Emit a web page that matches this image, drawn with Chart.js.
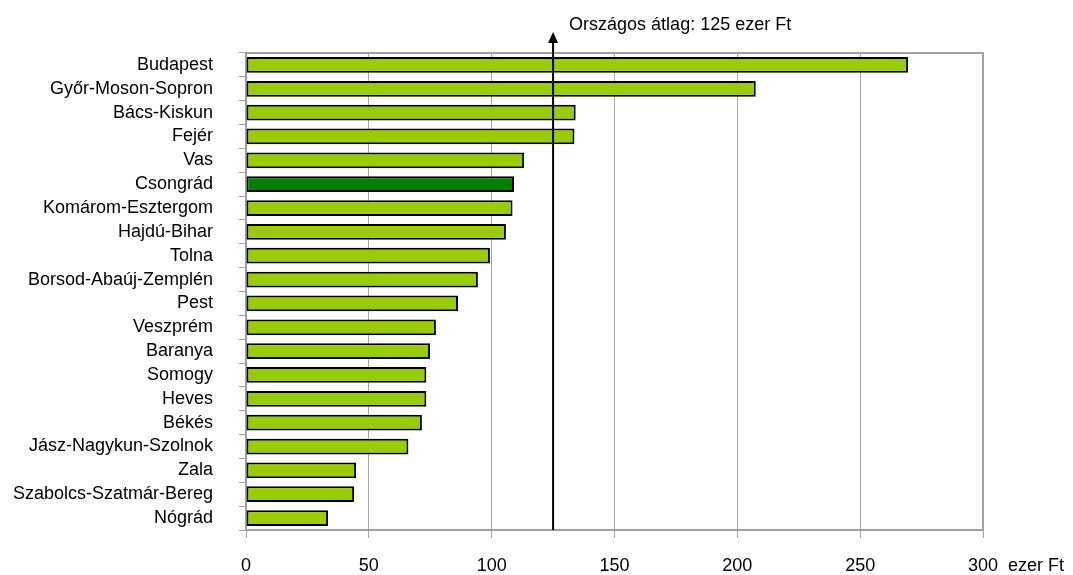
<!DOCTYPE html>
<html>
<head>
<meta charset="utf-8">
<script src="https://cdn.jsdelivr.net/npm/chart.js@4"></script>
<style>
  body { margin: 0; background: #fff; }
  #wrap { width: 1073px; height: 575px; }
</style>
</head>
<body>
<div id="wrap"><canvas id="megyek" width="1073" height="575"></canvas></div>
<script>
var megyek = ['Budapest', 'Győr-Moson-Sopron', 'Bács-Kiskun', 'Fejér', 'Vas', 'Csongrád',
  'Komárom-Esztergom', 'Hajdú-Bihar', 'Tolna', 'Borsod-Abaúj-Zemplén', 'Pest', 'Veszprém',
  'Baranya', 'Somogy', 'Heves', 'Békés', 'Jász-Nagykun-Szolnok', 'Zala',
  'Szabolcs-Szatmár-Bereg', 'Nógrád'];
var ertekek = [269.5, 207.5, 134.2, 133.7, 113.2, 109.1, 108.5, 105.8, 99.3, 94.4, 86.3, 77.3,
  74.9, 73.4, 73.4, 71.6, 66.1, 44.8, 44, 33.4];
var xTicks = [0, 50, 100, 150, 200, 250, 300];
var orszagosAtlag = 125;
var kiemelt = 'Csongrád';

var font = "'Liberation Sans', Arial, sans-serif";

var colors = megyek.map(m => m == kiemelt ? '#008000' : '#99cc00');

// arrow for the national average + extra texts
var atlagPlugin = {
  id: 'atlag',
  afterDatasetsDraw(chart) {
    var ctx = chart.ctx;
    var area = chart.chartArea;
    var x = chart.scales.x.getPixelForValue(orszagosAtlag);
    ctx.save();
    ctx.strokeStyle = '#000';
    ctx.lineWidth = 2;
    ctx.beginPath();
    ctx.moveTo(x, area.bottom);
    ctx.lineTo(x, 40);
    ctx.stroke();
    ctx.fillStyle = '#000';
    ctx.beginPath();
    ctx.moveTo(x, 32);
    ctx.lineTo(x - 5, 43);
    ctx.lineTo(x + 5, 43);
    ctx.closePath();
    ctx.fill();
    ctx.font = '18px ' + font;
    ctx.textBaseline = 'middle';
    ctx.textAlign = 'left';
    ctx.fillText('Országos átlag: ' + orszagosAtlag + ' ezer Ft', x + 16, 25);
    ctx.fillText('ezer Ft', area.right + 25, 566);
    ctx.restore();
  },
  beforeDatasetsDraw(chart) {
    var ctx = chart.ctx;
    var area = chart.chartArea;
    ctx.save();
    ctx.strokeStyle = '#a0a0a0';
    ctx.lineWidth = 2;
    ctx.strokeRect(area.left, area.top, area.right - area.left, area.bottom - area.top);
    ctx.restore();
  }
};

var config = {
  type: 'bar',
  data: {
    labels: megyek,
    datasets: [{
      data: ertekek,
      backgroundColor: colors,
      borderColor: '#000',
      borderWidth: 2,
      borderSkipped: false,
      barPercentage: 0.66,
      categoryPercentage: 1
    }]
  },
  options: {
    indexAxis: 'y',
    responsive: false,
    devicePixelRatio: 1,
    animation: false,
    layout: { padding: { top: 53, right: 90, left: 0, bottom: 0 } },
    plugins: { legend: { display: false }, tooltip: { enabled: false } },
    scales: {
      x: {
        min: 0,
        max: 300,
        afterBuildTicks: function(scale) { scale.ticks = xTicks.map(v => ({ value: v })); },
        afterFit: function(scale) { scale.height = 45; },
        grid: { color: '#a6a6a6', lineWidth: 1, tickLength: 8 },
        border: { color: '#a0a0a0', width: 2 },
        ticks: { color: '#000', font: { family: font, size: 18 }, padding: 17 }
      },
      y: {
        afterFit: function(scale) { scale.width = 246; },
        grid: { offset: true, drawOnChartArea: false, color: '#a0a0a0', tickLength: 7 },
        border: { color: '#a0a0a0', width: 2 },
        ticks: { color: '#000', font: { family: font, size: 18 }, padding: 26, autoSkip: false }
      }
    }
  },
  plugins: [atlagPlugin]
};

var ctx = document.getElementById('megyek').getContext('2d');
var megyekChart = new Chart(ctx, config);
</script>
</body>
</html>
